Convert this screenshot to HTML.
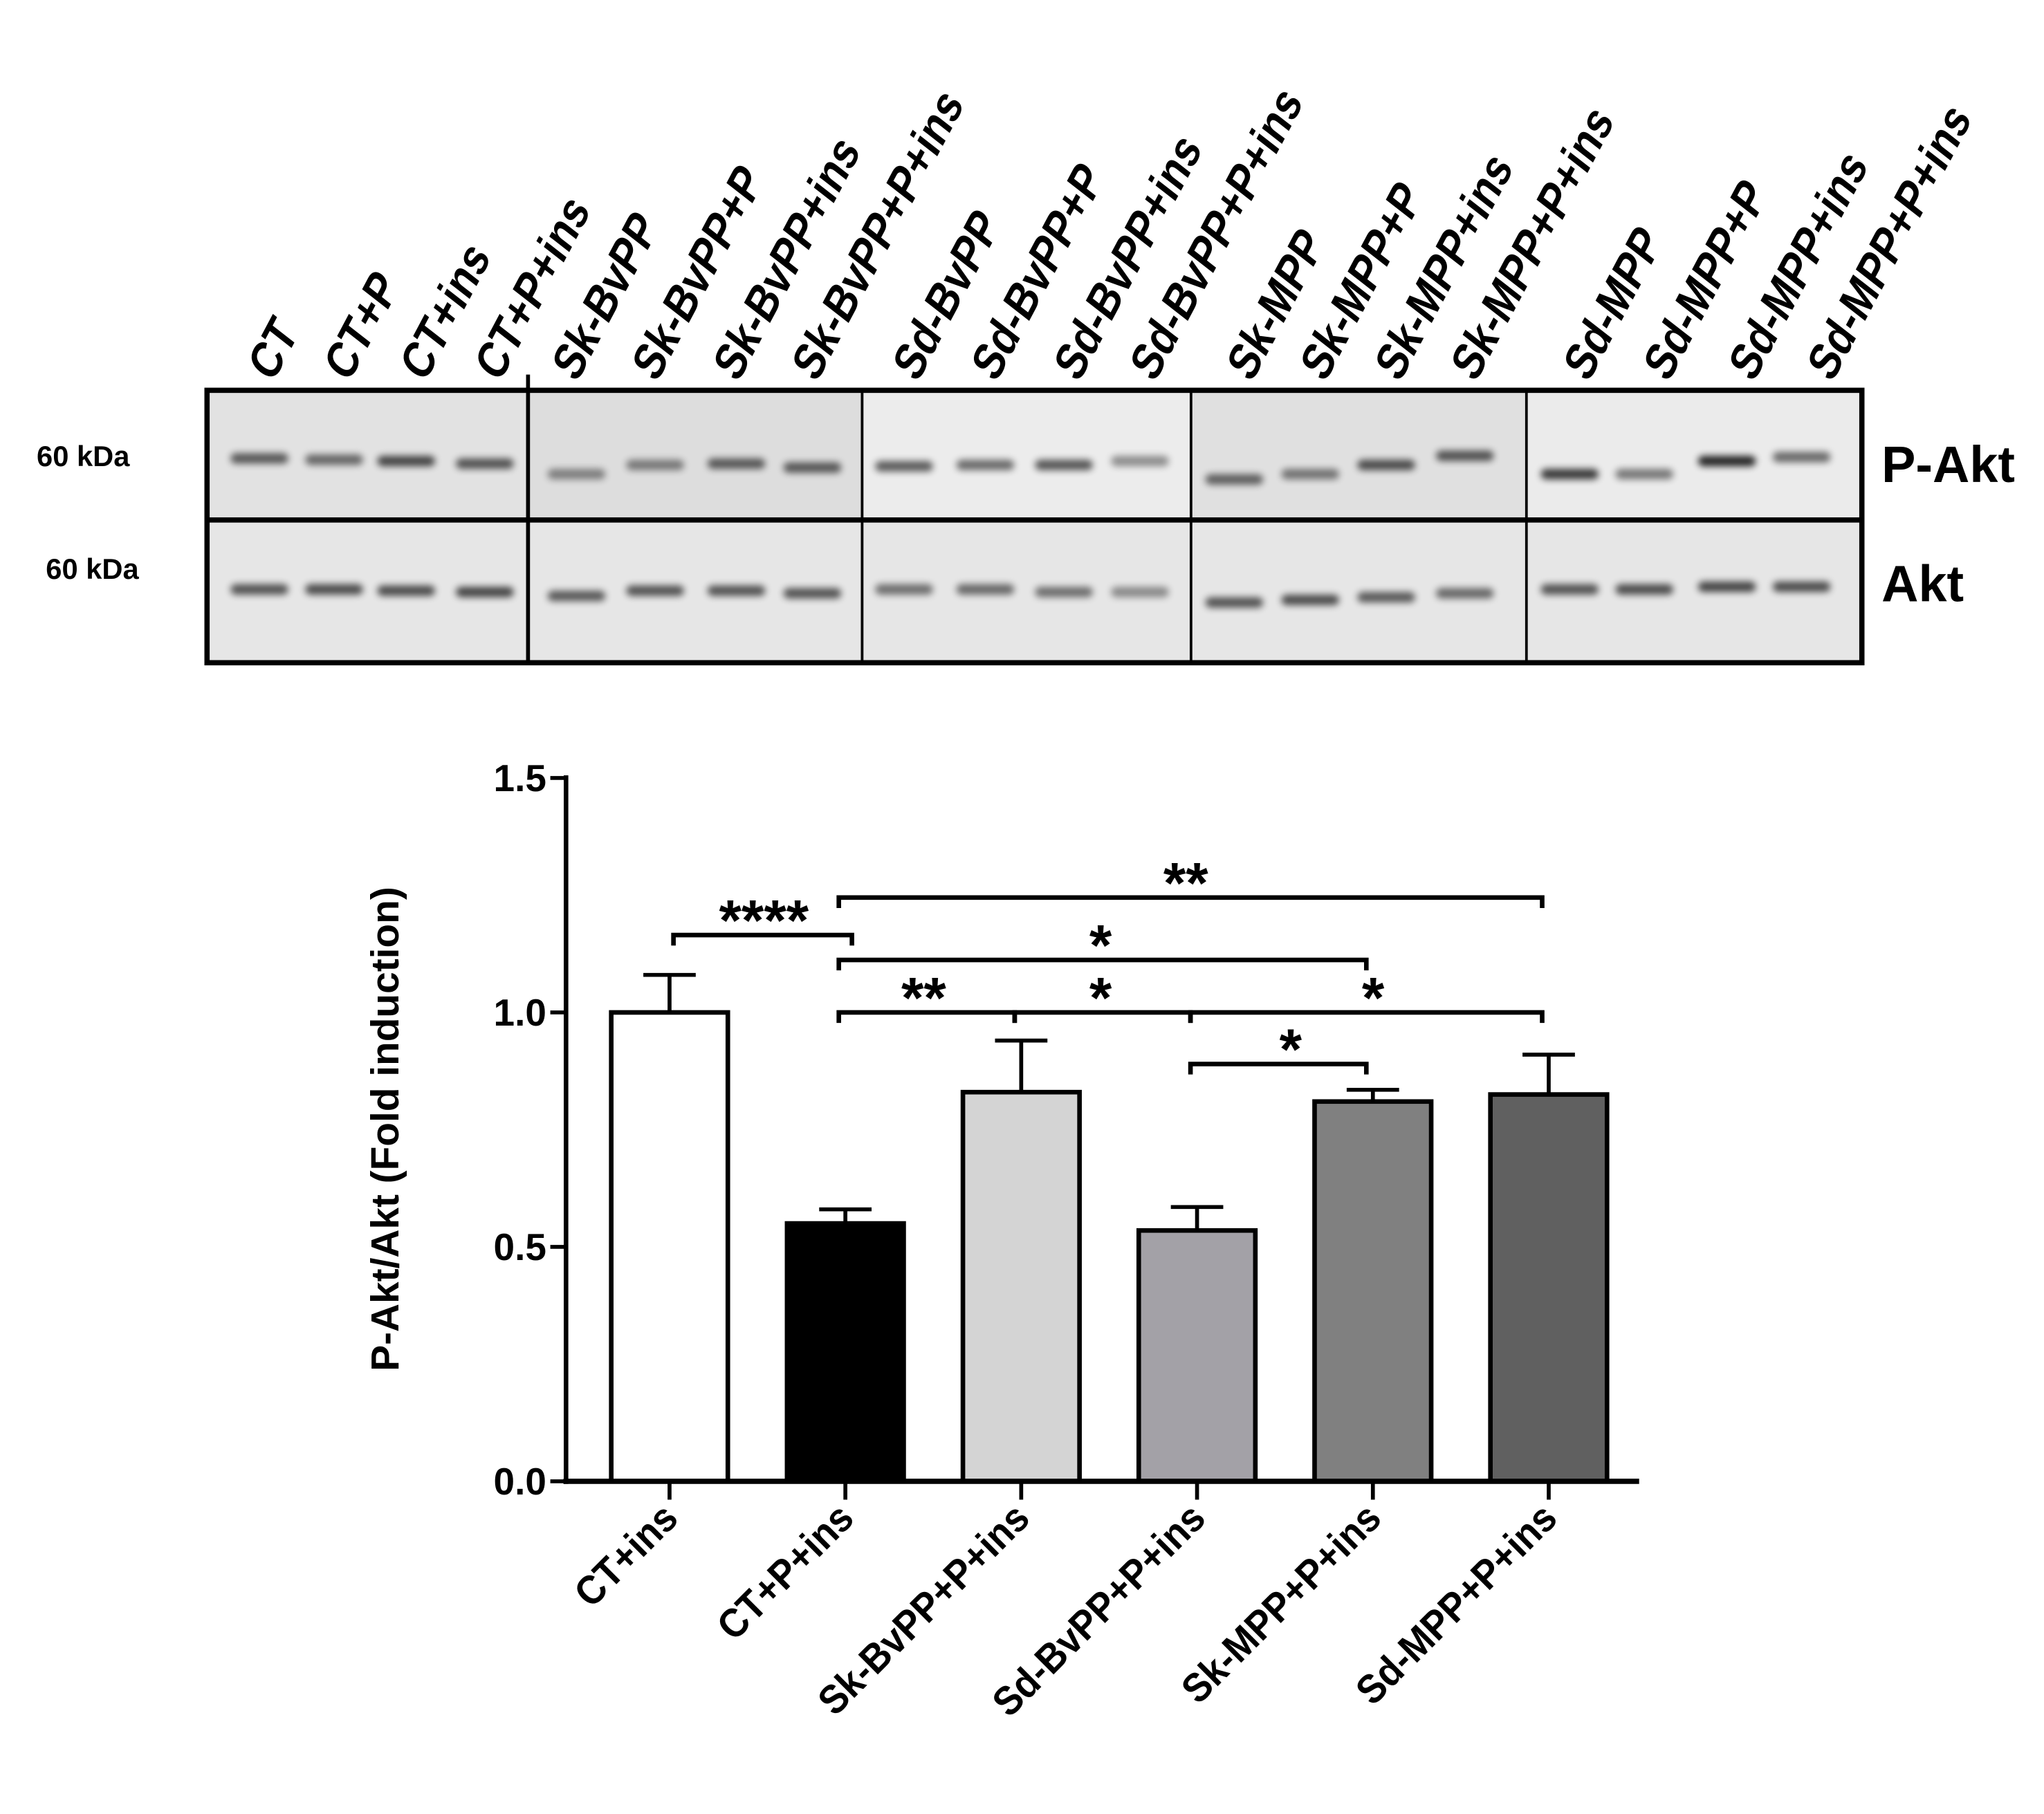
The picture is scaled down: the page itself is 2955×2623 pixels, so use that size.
<!DOCTYPE html>
<html><head><meta charset="utf-8">
<style>
html,body{margin:0;padding:0;background:#fff;}
svg{display:block;}
text{font-family:"Liberation Sans",Arial,sans-serif;font-weight:bold;}
</style></head>
<body>
<svg id="fig" width="2955" height="2623" viewBox="0 0 1560 1385" preserveAspectRatio="none" xmlns="http://www.w3.org/2000/svg">
<defs>
<filter id="blur" x="-20%" y="-200%" width="140%" height="500%"><feGaussianBlur stdDeviation="2.6"/></filter>
</defs>
<g id="blot"></g>
<g id="chart"></g>
</svg>
<script>
// ---------- Blot data ----------
const laneLabels=["CT","CT+P","CT+ins","CT+P+ins","Sk-BvPP","Sk-BvPP+P","Sk-BvPP+ins","Sk-BvPP+P+ins","Sd-BvPP","Sd-BvPP+P","Sd-BvPP+ins","Sd-BvPP+P+ins","Sk-MPP","Sk-MPP+P","Sk-MPP+ins","Sk-MPP+P+ins","Sd-MPP","Sd-MPP+P","Sd-MPP+ins","Sd-MPP+P+ins"];
const pAktIntensity=[0.6,0.5,0.75,0.65,0.3,0.35,0.6,0.6,0.6,0.5,0.65,0.25,0.55,0.4,0.7,0.65,0.85,0.4,1.0,0.5];
const aktIntensity=[0.65,0.7,0.7,0.75,0.6,0.65,0.65,0.65,0.45,0.5,0.45,0.25,0.65,0.7,0.6,0.5,0.65,0.7,0.75,0.7];
// ---------- Chart data ----------
const categories=["CT+ins","CT+P+ins","Sk-BvPP+P+ins","Sd-BvPP+P+ins","Sk-MPP+P+ins","Sd-MPP+P+ins"];
const means=[1.0,0.55,0.83,0.535,0.81,0.825];
const errors=[0.08,0.03,0.11,0.05,0.025,0.085];
const fills=["#ffffff","#000000","#d4d4d4","#a3a1a7","#808080","#606060"];
const yTicks=[0,0.5,1.0,1.5];
const yTickLabels=["0.0","0.5","1.0","1.5"];
// brackets: [fromIdx, toIdx, yValue, label]
const brackets=[[0,1,1.165,"****"],[1,5,1.245,"**"],[1,4,1.112,"*"],[1,2,1.0,"**"],[2,3,1.0,"*"],[3,5,1.0,"*"],[3,4,0.89,"*"]];

const NS="http://www.w3.org/2000/svg";
function mk(tag,attrs,parent){const e=document.createElementNS(NS,tag);for(const k in attrs)e.setAttribute(k,attrs[k]);parent.appendChild(e);return e;}

// ---------- Blot ----------
const blot=document.getElementById('blot');
const L=158,R=1421,T=298,M=397,B=506;
const panels=[158,403,658,909,1165,1421];
const panelBg=["#e2e2e2","#dddddd","#ececec","#e0e0e0","#ebebeb"];
for(let p=0;p<5;p++){
  let r=mk('rect',{x:panels[p],y:T,width:panels[p+1]-panels[p],height:M-T,fill:panelBg[p]},blot);
  
  r=mk('rect',{x:panels[p],y:M,width:panels[p+1]-panels[p],height:B-M,fill:"#e6e6e6"},blot);
  
}
const laneX=[198,255,310,370,440,500,562,620,690,752,812,870,942,1000,1058,1118,1198,1255,1318,1375];
const pAktY=[350,351,352,354,362,355,354,357,356,355,355,352,366,362,355,348,362,362,352,349];
const aktY=[450,450,451,452,455,451,451,453,450,450,452,452,460,458,456,453,450,450,448,448];
for(let i=0;i<20;i++){
  let b=mk('rect',{x:laneX[i]-22,y:pAktY[i]-4,width:44,height:8,rx:4,fill:"#000",opacity:(0.25+0.6*pAktIntensity[i]).toFixed(2),filter:"url(#blur)"},blot);
  
  b=mk('rect',{x:laneX[i]-22,y:aktY[i]-4,width:44,height:8,rx:4,fill:"#000",opacity:(0.25+0.6*aktIntensity[i]).toFixed(2),filter:"url(#blur)"},blot);
  
  const lx=[200,258,316,373,432,493,555,615,692,752,815,873,947,1003,1060,1118,1204,1265,1330,1390][i];
  const t=mk('text',{x:0,y:0,'font-size':36,transform:`translate(${lx+8},293) rotate(-62) skewX(-10) scale(0.9,1)`},blot);
  t.textContent=laneLabels[i];
  
}
let fr=mk('rect',{x:L,y:T,width:R-L,height:B-T,fill:"none",stroke:"#000","stroke-width":4},blot);

let ml=mk('line',{x1:L,x2:R,y1:M,y2:M,stroke:"#000","stroke-width":4},blot);

for(let p=1;p<5;p++){
  const d=mk('line',{x1:panels[p],x2:panels[p],y1:(p==1?286:T),y2:B,stroke:"#000","stroke-width":p==1?3:2},blot);
  
}
[["60 kDa",28,356],["60 kDa",35,442]].forEach(a=>{const t=mk('text',{x:a[1],y:a[2],'font-size':22},blot);t.textContent=a[0];});
[["P-Akt",1436,368],["Akt",1436,459]].forEach(a=>{const t=mk('text',{x:a[1],y:a[2],'font-size':39},blot);t.textContent=a[0];});

// ---------- Chart ----------
const ch=document.getElementById('chart');
const axX=432, y0=1131, yPer=358; // pixels per 1.0
function ys(v){return y0-v*yPer;}
const catX=[511,645,781,912,1048,1182];
function xs(i){return catX[0]+i*(catX[5]-catX[0])/5;}
const barW=89;
categories.forEach((c,i)=>{
  const cx=xs(i);
  let el=mk('line',{x1:cx,x2:cx,y1:ys(means[i]),y2:ys(means[i]+errors[i]),stroke:"#000","stroke-width":3},ch);
  
  el=mk('line',{x1:cx-20,x2:cx+20,y1:ys(means[i]+errors[i]),y2:ys(means[i]+errors[i]),stroke:"#000","stroke-width":3},ch);
  
  el=mk('rect',{x:cx-barW/2,y:ys(means[i]),width:barW,height:y0-ys(means[i]),fill:fills[i],stroke:"#000","stroke-width":3.5},ch);
  
  el=mk('line',{x1:cx,x2:cx,y1:y0,y2:y0+14,stroke:"#000","stroke-width":3},ch);
  
  el=mk('text',{x:0,y:0,'font-size':31,'text-anchor':'end',transform:`translate(${cx+8},${y0+30}) rotate(-45) scale(0.92,1)`},ch);
  el.textContent=c;
  
});
let ax=mk('line',{x1:axX,x2:axX,y1:ys(1.5)-2,y2:y0+2,stroke:"#000","stroke-width":3.5},ch);

ax=mk('line',{x1:axX-2,x2:1251,y1:y0,y2:y0,stroke:"#000","stroke-width":4},ch);

yTicks.forEach((v,i)=>{
  let t=mk('line',{x1:axX-12,x2:axX,y1:ys(v),y2:ys(v),stroke:"#000","stroke-width":3},ch);
  
  t=mk('text',{x:axX-15,y:ys(v)+10,'font-size':29,'text-anchor':'end'},ch);
  t.textContent=yTickLabels[i];
  
});
let yl=mk('text',{x:0,y:0,'font-size':30,'text-anchor':'middle',transform:`translate(304,862) rotate(-90)`},ch);
yl.textContent="P-Akt/Akt (Fold induction)";

brackets.forEach(b=>{
  const x1=xs(b[0])+(b[0]==0?3:-5), x2=xs(b[1])-5+(b[1]==1?10:0), y=ys(b[2]);
  const p=mk('path',{d:`M${x1},${y+8} L${x1},${y} L${x2},${y} L${x2},${y+8}`,fill:"none",stroke:"#000","stroke-width":3.5},ch);
  
});
const starPos=[[583,1.165],[905,1.245],[840,1.112],[705,1.0],[840,1.0],[1048,1.0],[985,0.89]];
brackets.forEach((b,i)=>{
  const t=mk('text',{x:starPos[i][0],y:ys(starPos[i][1])+4,'font-size':44,'text-anchor':'middle'},ch);
  t.textContent=b[3];
  
});
</script>
</body></html>
